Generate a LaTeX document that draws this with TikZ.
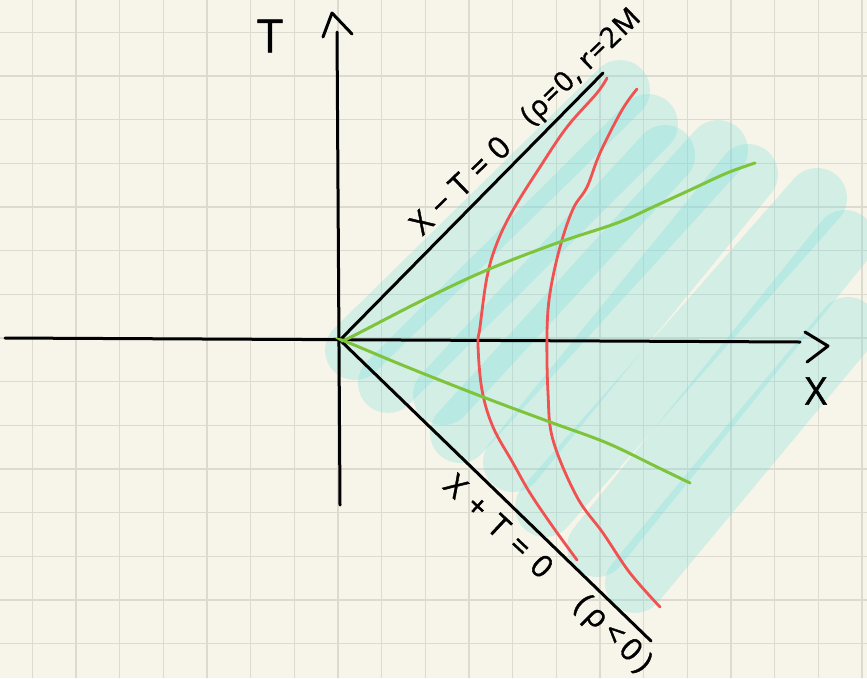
\documentclass[tikz,border=0pt]{standalone}
\usepackage{fontspec}
\setmainfont{Open Sans}
\newfontfamily\hand[FakeBold=1.2]{Open Sans}
\begin{document}
\begin{tikzpicture}[x=1pt,y=-1pt,
  ink/.style={line width=3pt,black,line cap=round,line join=round},
  wash/.style={line width=60pt,line cap=round,draw=washc,draw opacity=0.3},
  redc/.style={line width=2.8pt,draw=curvered,line cap=round},
  grnc/.style={line width=3pt,draw=curvegreen,line cap=round},
  lab/.style={inner sep=0pt,font=\hand\fontsize{31}{33}\selectfont},
  axlab/.style={inner sep=0pt,font=\hand\fontsize{46}{48}\selectfont}]
\definecolor{paper}{RGB}{247,245,233}
\definecolor{gridc}{RGB}{221,219,208}
\definecolor{washc}{RGB}{127,222,223}
\definecolor{curvered}{RGB}{240,82,82}
\definecolor{curvegreen}{RGB}{126,196,58}
\useasboundingbox (0,0) rectangle (867,678);
\fill[paper] (0,0) rectangle (867,678);
\foreach \i in {0,...,19} \draw[gridc,line width=1.2pt] (32.3+43.67*\i,0) -- (32.3+43.67*\i,678);
\foreach \i in {0,...,14} \draw[gridc,line width=1.2pt] (0,32.3+43.67*\i) -- (867,32.3+43.67*\i);
% blue wash strokes
\draw[wash] (355,350) -- (620,90);
\draw[wash] (388,383) -- (648,124);
\draw[wash] (443,395) -- (665,155);
\draw[wash] (460,433) -- (718,150);
\draw[wash] (513,462) -- (748,174);
\draw[wash] (545,507) -- (817,198);
\draw[wash] (597,547) -- (845,240);
\draw[wash] (635,583) -- (848,327);
% named points
\coordinate (O) at (340,340);
\coordinate (Xl) at (5,338);
\coordinate (Xr) at (800,342);
\coordinate (Tb) at (340,505);
\coordinate (Tt) at (337,32);
\coordinate (Up) at (603,73);
\coordinate (Lo) at (651,641);
% axes
\draw[ink] (Xl) -- (Xr);
\draw[ink] (Tb) -- (Tt);
\draw[ink] (323,37) -- (332,13) -- (352,34);
\draw[ink] (805,332) -- (828,346) -- (807,362);
% light cone lines
\draw[ink] (O) -- (Up);
\draw[ink] (O) -- (Lo);
% red curves
\draw[redc] plot[smooth,tension=0.6] coordinates {(607,78) (597,93) (567,127) (540,167) (513,210) (497,243) (487,277) (480,327) (478,345) (482,390) (493,427) (513,463) (530,493) (553,527) (577,560)};
\draw[redc] plot[smooth,tension=0.6] coordinates {(637,89) (622,110) (600,153) (587,187) (573,209) (560,247) (550,293) (547,333) (548,393) (553,440) (577,497) (603,533) (630,573) (660,607)};
% green curves
\draw[grnc] plot[smooth,tension=0.6] coordinates {(343,340) (353,336) (423,300) (487,270) (557,243) (617,223) (653,207) (690,190) (727,173) (755,163)};
\draw[grnc] plot[smooth,tension=0.6] coordinates {(343,341) (347,342) (407,367) (483,397) (550,422) (607,443) (657,467) (690,483)};
% labels
\node[axlab] (Tlab) at (270,36) {T};
\node[axlab,font=\hand\fontsize{38}{40}\selectfont] (Xlab) at (816,391) {X};
\node[lab,rotate=44] (up1) at (460,185) {\addfontfeature{LetterSpace=30}X−T=0};
\node[lab,rotate=44,font=\hand\fontsize{28}{30}\selectfont] (up2) at (582,68) {\addfontfeature{LetterSpace=6}(ρ=0, r=2M};
\node[lab,rotate=-43] (lo1) at (499,526) {\addfontfeature{LetterSpace=38}X+T=0};
\node[lab,rotate=-45] (lo2) at (612,635) {\addfontfeature{LetterSpace=18}(ρ<0)};
\end{tikzpicture}
\end{document}
